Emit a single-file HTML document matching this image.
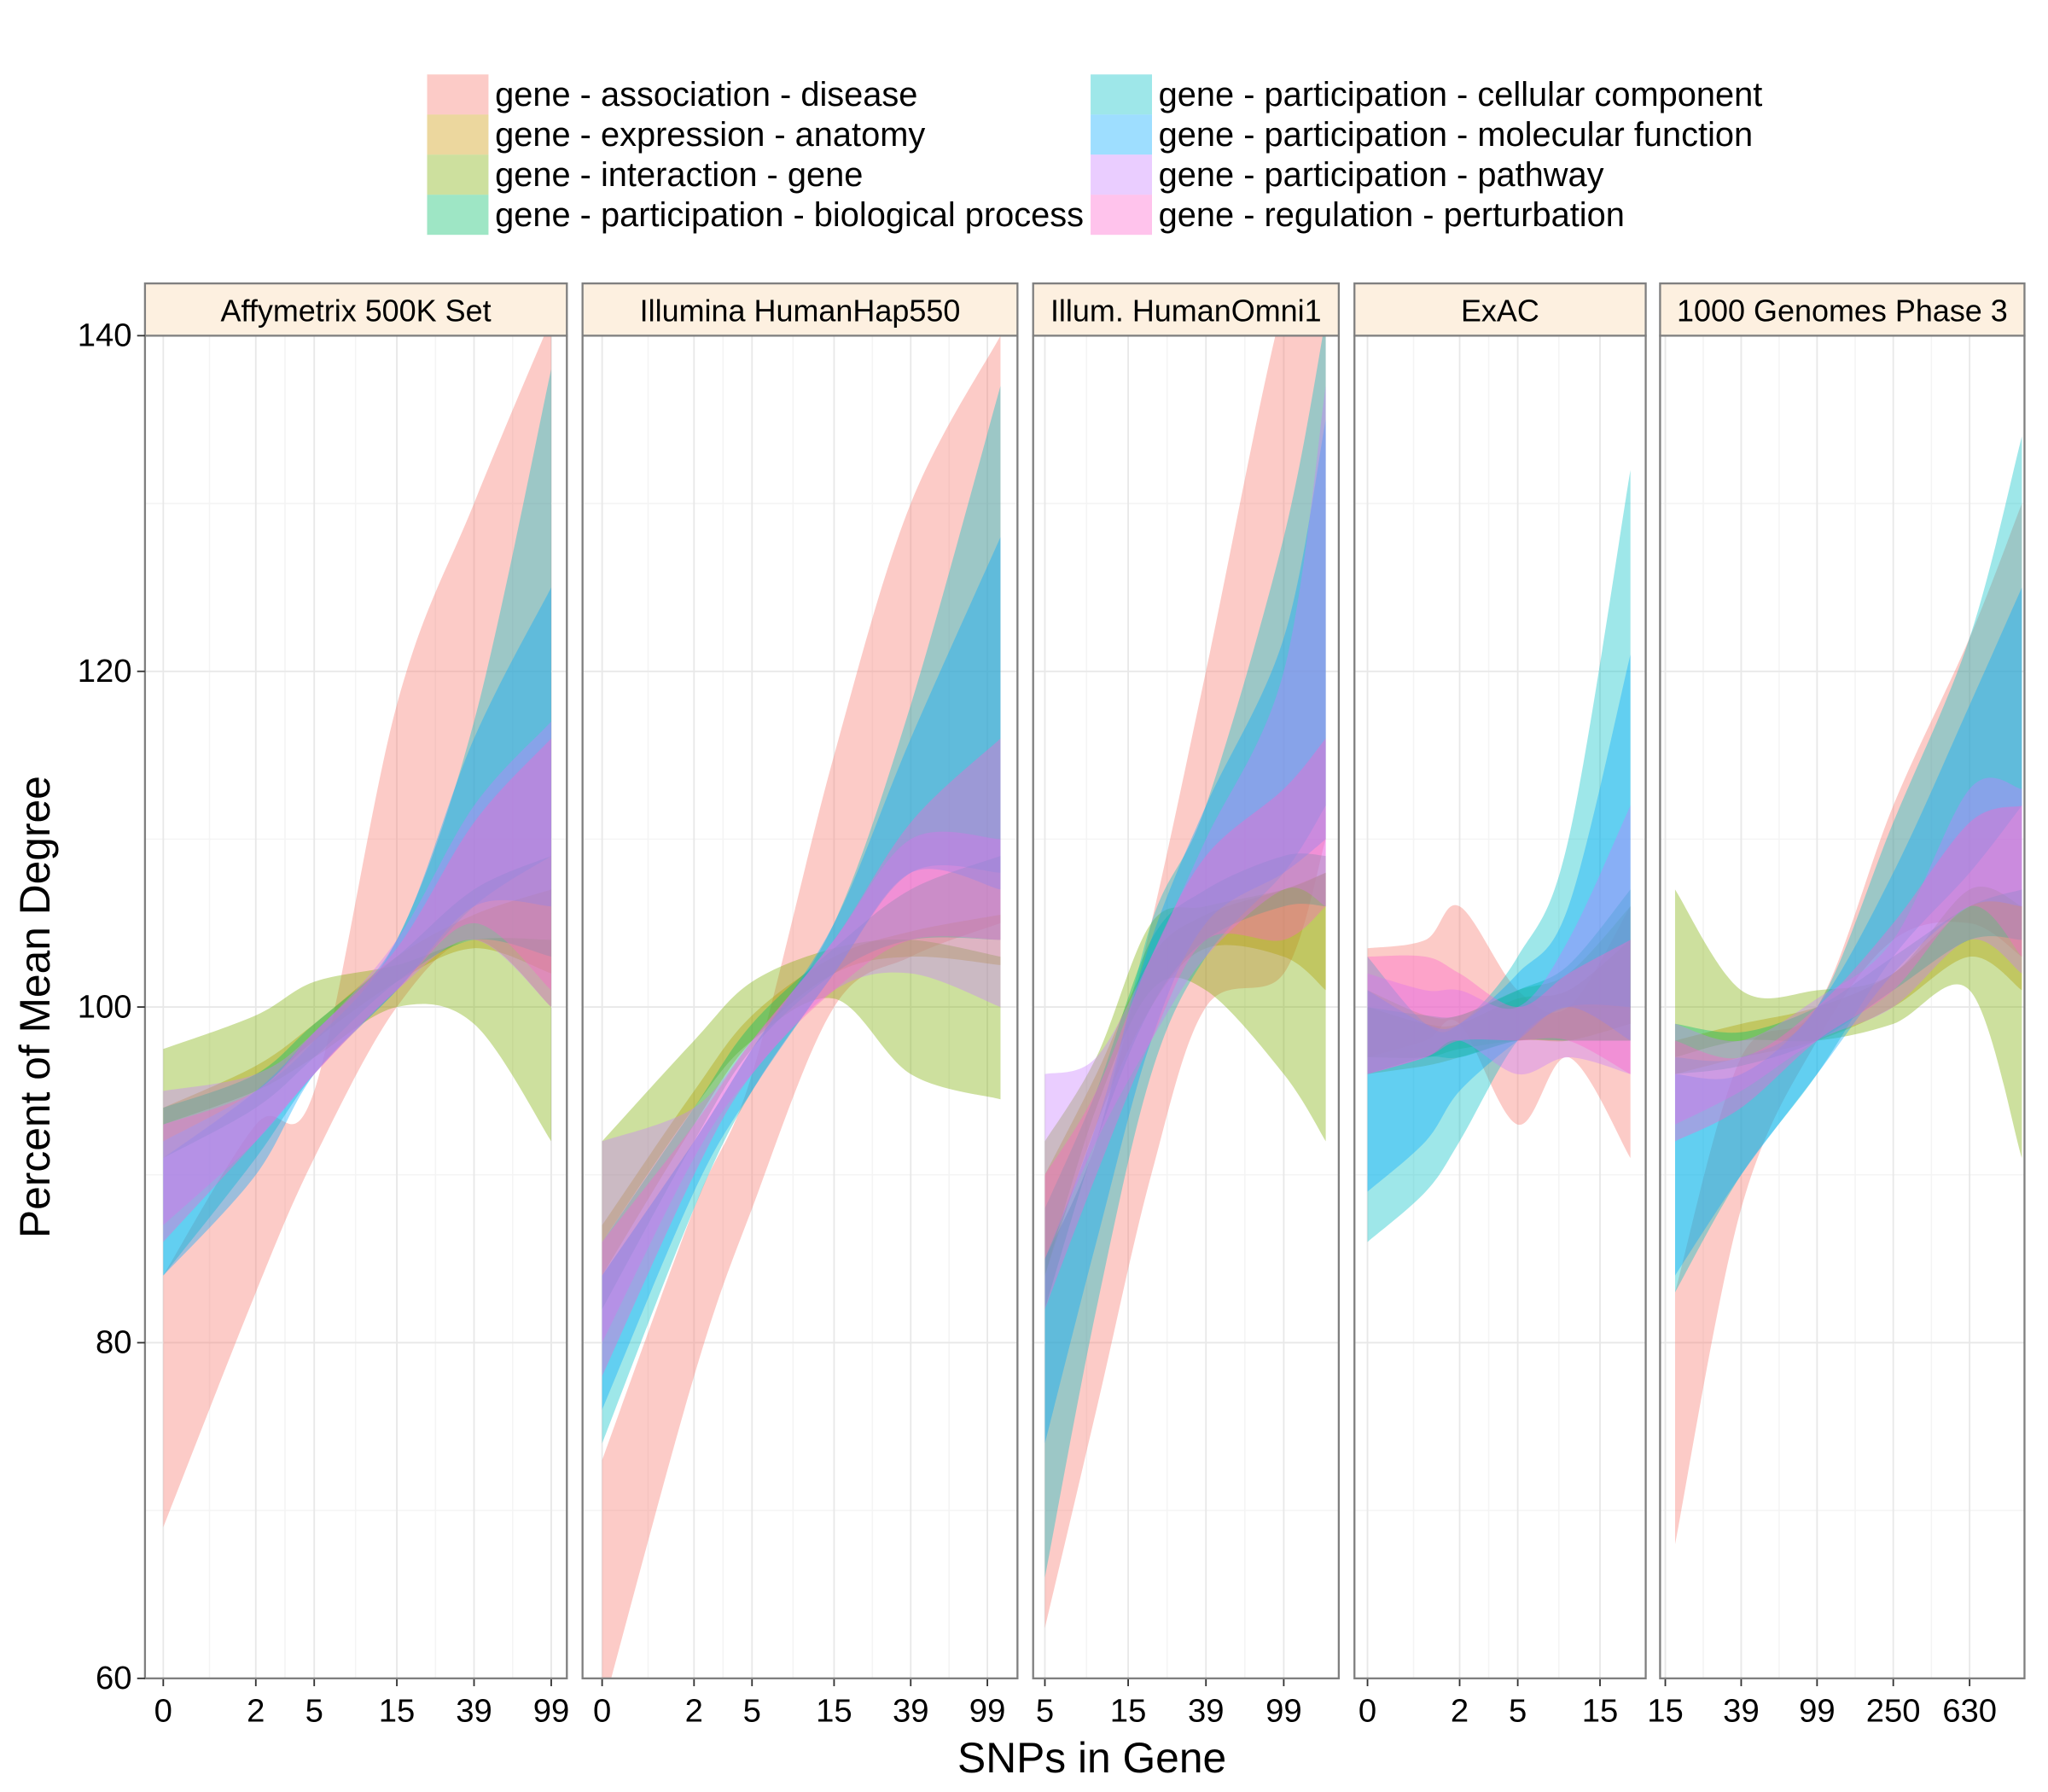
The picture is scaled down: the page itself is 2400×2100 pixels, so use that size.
<!DOCTYPE html>
<html><head><meta charset="utf-8"><style>
html,body{margin:0;padding:0;background:#fff}
svg{display:block;font-family:"Liberation Sans",Arial,sans-serif}
</style></head><body>
<svg id="chart" width="2400" height="2100" viewBox="0 0 1568 1372" xmlns="http://www.w3.org/2000/svg">
<rect width="1568" height="1372" fill="#fff"/>
<g id="legend"></g>
<g id="panels"></g>
<text x="38" y="771" font-size="32.5" text-anchor="middle" transform="rotate(-90 38 771)">Percent of Mean Degree</text>
<text x="836" y="1357" font-size="32.5" text-anchor="middle">SNPs in Gene</text>
</svg>
<script>
const seriesNames=["gene - association - disease","gene - expression - anatomy","gene - interaction - gene","gene - participation - biological process","gene - participation - cellular component","gene - participation - molecular function","gene - participation - pathway","gene - regulation - perturbation"];
const colors=["#F8766D","#CD9600","#7CAE00","#00BE67","#00BFC4","#00A9FF","#C77CFF","#FF61CC"];
const panelTitles=["Affymetrix 500K Set","Illumina HumanHap550","Illum. HumanOmni1","ExAC","1000 Genomes Phase 3"];
const yTicks=[60,80,100,120,140];
const p1Ticks=[0,2,5,15,39,99];
const p2Ticks=[0,2,5,15,39,99];
const p3Ticks=[5,15,39,99];
const p4Ticks=[0,2,5,15];
const p5Ticks=[15,39,99,250,630];
const p1X=[0,2,5,15,39,99];
const p1Lo=[[69,83,91,100,104,100],[92,95,98,101.5,103.5,102],[93,95,97,100,99,92],[91,94,97,101.5,104,103],[84,91,96,101,106,109],[84,90,96,101,106,106],[87,92,96,101,104,100],[86,92,96,101,105,101]];
const p1Hi=[[84,93,95,118,130,141],[94,96.5,99,103,105.5,107],[97.5,99.5,101.5,102.5,104,104],[94,96,99,103,107,109],[92,95,98,104,117,138],[91,95,98.5,104,116,125],[95,96,98.5,104,112,117],[93,95,98.5,103.5,111,116]];
const p2X=[0,2,5,15,39,116];
const p2Lo=[[58,78,88,100,103,105],[84,93,98,102,103,102.5],[86,94,98,100.5,96,94.5],[82,92,97.5,102,104,104],[74,88,95,102,108,108],[76,89,95,102,108,107],[80,91,96,101,102,100],[78,90,96,101,104,104]];
const p2Hi=[[73,88,96,115,130,140],[87,95,99.5,103,104.5,105.5],[92,98,101.5,103.5,104,103],[86,94,99,103.5,107,109],[84,92,97.5,105,118,137],[84,92,97.5,105,116,128],[92,94,98,104,110,110],[86,93,98,104,111,116]];
const p3X=[5,10,20,39,99,163];
const p3Lo=[[63,76,90,100,102,110],[84,93,100,103.5,103,101],[84,94,101,101,96,92],[82,92,100,104,106,106],[66,82,96,103,108,112],[74,86,98,105,108,110],[85,92,98,103,107,106],[82,90,98,104,104,106]];
const p3Hi=[[85,92,105,120,142,146],[90,96,103,105.5,107,108],[92,97,105,106,107,108],[88,95,104,107,109,109],[85,92,105,112,128,141],[85,93,104,112,122,135],[96,97,103,110,120,137],[90,95,103,109,113,116]];
const p4X=[0,1,2,5,10,22];
const p4Lo=[[97,98,99,93,97,91],[96,96.5,97,98,98,99],[97,97,97.5,98,98,98],[96,97,97,98,98,98],[86,89,92,98,100,100],[89,92,95,98,100,98],[96,97,98,96,97,96],[96,97,98,98,98,96]];
const p4Hi=[[103.5,104,106,101,100,106],[100,99,99,100.5,101,104],[101,99.5,99.5,101,102,106],[100,99.5,99.5,101,102.5,107],[103,99,99,103,110,132],[101,99,99,102,106,121],[102,101,101,100,104,112],[103,103,102,100,102,104]];
const p5X=[17,39,99,250,630,1185];
const p5Lo=[[68,88,98,104,105,103],[96,97,98,100,103,101],[97,98,98,99,101,91],[96,96.5,98,101,104,104],[83,90,96,103,108,112],[84,90,96,102,106,106],[93,95,98,100,104,102],[92,94,98,101,106,103]];
const p5Hi=[[83,97,100,112,122,130],[98,99,100,102,106,106],[107,101,101,102,107,106],[99,98.5,100,103,106,107],[97,97,100,111,122,134],[96,96,100,108,118,125],[99,98,100.5,104,113,113],[98,97,100,105,111,112]];

const NS="http://www.w3.org/2000/svg";
function mk(tag,attrs,parent){const e=document.createElementNS(NS,tag);for(const k in attrs)e.setAttribute(k,attrs[k]);parent.appendChild(e);return e;}
const yTop=257,yBot=1285,yMin=60,yMax=140;
function yScale(v){return yBot-(v-yMin)/(yMax-yMin)*(yBot-yTop);}
const layout=[[111,434,0,125,64.5],[446,779,0,461,64.05],[791,1025,5,800,65],[1037,1260,0,1047,64.2],[1271,1550,15,1275,63.4]];
const panelX=[p1X,p2X,p3X,p4X,p5X],panelLo=[p1Lo,p2Lo,p3Lo,p4Lo,p5Lo],panelHi=[p1Hi,p2Hi,p3Hi,p4Hi,p5Hi],panelTicks=[p1Ticks,p2Ticks,p3Ticks,p4Ticks,p5Ticks];
function crPath(pts){let d="";for(let i=0;i<pts.length-1;i++){const p0=pts[Math.max(0,i-1)],p1=pts[i],p2=pts[i+1],p3=pts[Math.min(pts.length-1,i+2)];
const c1=[p1[0]+(p2[0]-p0[0])/6,p1[1]+(p2[1]-p0[1])/6],c2=[p2[0]-(p3[0]-p1[0])/6,p2[1]-(p3[1]-p1[1])/6];
d+=" C"+c1[0].toFixed(1)+","+c1[1].toFixed(1)+" "+c2[0].toFixed(1)+","+c2[1].toFixed(1)+" "+p2[0].toFixed(1)+","+p2[1].toFixed(1);}return d;}
const panelsG=document.getElementById("panels");
const defs=mk("defs",{},panelsG);
layout.forEach((L,pi)=>{
 const [x0,x1,av,ap,k]=L;
 const xs=v=>ap+k*(Math.log(v+1)-Math.log(av+1));
 const g=mk("g",{},panelsG);
 
 
 const cp=mk("clipPath",{id:"clip"+pi},defs);mk("rect",{x:x0,y:yTop,width:x1-x0,height:yBot-yTop},cp);
 for(let i=0;i<yTicks.length-1;i++){const l=mk("line",{x1:x0,x2:x1,y1:yScale((yTicks[i]+yTicks[i+1])/2),y2:yScale((yTicks[i]+yTicks[i+1])/2),stroke:"#f4f4f4","stroke-width":1},g);}
 const tk=panelTicks[pi];
 for(let i=0;i<tk.length-1;i++){const m=(xs(tk[i])+xs(tk[i+1]))/2;const l=mk("line",{x1:m,x2:m,y1:yTop,y2:yBot,stroke:"#f4f4f4","stroke-width":1},g);}
 yTicks.forEach(v=>{const l=mk("line",{x1:x0,x2:x1,y1:yScale(v),y2:yScale(v),stroke:"#e8e8e8","stroke-width":1.2},g);});
 tk.forEach(v=>{const X=xs(v);const l=mk("line",{x1:X,x2:X,y1:yTop,y2:yBot,stroke:"#e8e8e8","stroke-width":1.2},g);
  const t=mk("line",{x1:X,x2:X,y1:yBot,y2:yBot+6,stroke:"#333","stroke-width":1.2},g);
  const tx=mk("text",{x:X,y:yBot+33,"font-size":25,"text-anchor":"middle",fill:"#000"},g);tx.textContent=v;});
 const rg=mk("g",{"clip-path":"url(#clip"+pi+")"},g);
 const X=panelX[pi];
 for(let s=0;s<8;s++){
  const up=X.map((v,i)=>[xs(v),yScale(panelHi[pi][s][i])]);
  const lo=X.map((v,i)=>[xs(v),yScale(panelLo[pi][s][i])]).reverse();
  const d="M"+up[0][0]+","+up[0][1]+crPath(up)+" L"+lo[0][0]+","+lo[0][1]+crPath(lo)+" Z";
  const p=mk("path",{d:d,fill:colors[s],"fill-opacity":0.38,stroke:"none"},rg);
  
  
 }
 const b=mk("rect",{x:x0,y:yTop,width:x1-x0,height:yBot-yTop,fill:"none",stroke:"#7f7f7f","stroke-width":1.5},g);
 const st=mk("rect",{x:x0,y:217,width:x1-x0,height:40,fill:"#fdf0e0",stroke:"#7f7f7f","stroke-width":1.5},g);
 const stt=mk("text",{x:(x0+x1)/2,y:246,"font-size":23.5,"text-anchor":"middle"},g);stt.textContent=panelTitles[pi];
 if(pi===0){yTicks.forEach(v=>{const t=mk("line",{x1:x0-6,x2:x0,y1:yScale(v),y2:yScale(v),stroke:"#333","stroke-width":1.2},g);
  const tx=mk("text",{x:x0-10,y:yScale(v)+8,"font-size":25,"text-anchor":"end"},g);tx.textContent=v;});}
});
const lg=document.getElementById("legend");
seriesNames.forEach((n,i)=>{const col=Math.floor(i/4),row=i%4;const sx=col?835:327,sy=57+row*30.7;
 const r=mk("rect",{x:sx,y:sy,width:47,height:30.7,fill:colors[i],"fill-opacity":0.38},lg);
 const t=mk("text",{x:sx+52,y:sy+24,"font-size":26},lg);t.textContent=n;});
</script>
</body></html>
